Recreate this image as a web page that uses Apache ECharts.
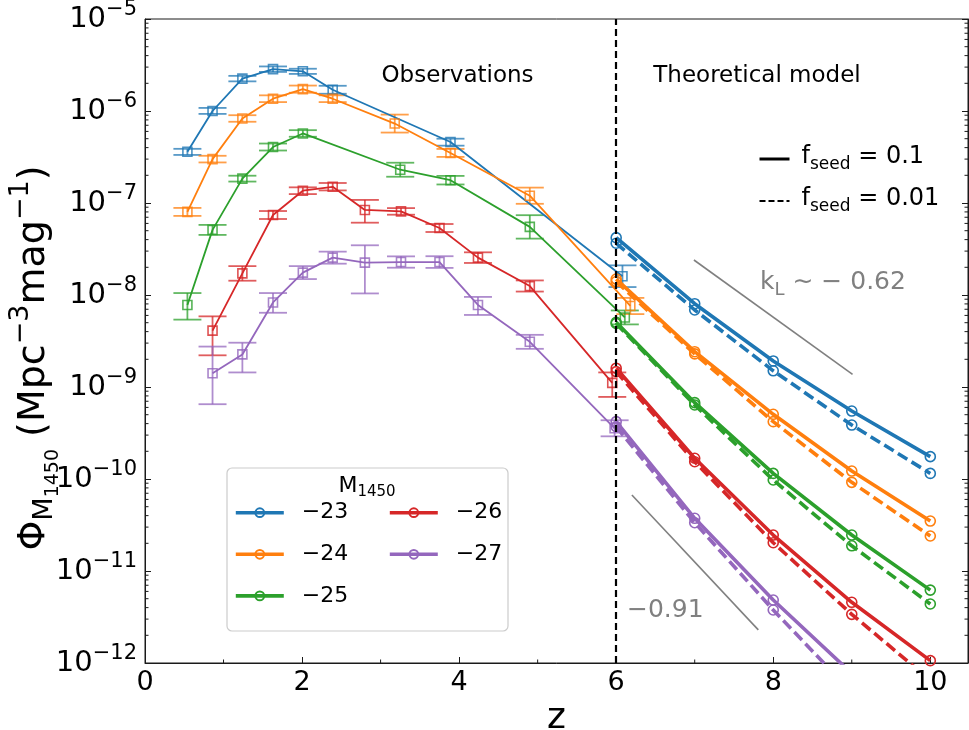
<!DOCTYPE html>
<html>
<head>
<meta charset="utf-8">
<script src="https://cdn.jsdelivr.net/npm/echarts@6/dist/echarts.min.js"></script>
<style>
  html, body { margin: 0; padding: 0; background: #ffffff; }
  #chart { width: 969px; height: 730px; }
</style>
</head>
<body>
<div id="chart"></div>
<script>
// ---- data -------------------------------------------------------------
const magLabels = ['−23', '−24', '−25', '−26', '−27'];

// observed luminosity function (z, Phi, lower and upper error bounds)
const obsZ23   = [0.54, 0.86, 1.24, 1.63, 2.01, 2.39, 3.89, 6.08];
const obsPhi23 = [3.6e-7, 1.0e-6, 2.25e-6, 2.85e-6, 2.7e-6, 1.7e-6, 4.6e-7, 1.6e-8];
const obsLo23  = [3.33e-7, 0.93e-6, 2.1e-6, 2.66e-6, 2.53e-6, 1.54e-6, 4.2e-7, 1.22e-8];
const obsHi23  = [3.88e-7, 1.08e-6, 2.41e-6, 3.05e-6, 2.88e-6, 1.88e-6, 5.0e-7, 2.1e-8];

const obsZ24   = [0.54, 0.86, 1.24, 1.63, 2.01, 2.39, 3.18, 3.89, 4.90, 6.18];
const obsPhi24 = [8.0e-8, 3.0e-7, 8.3e-7, 1.36e-6, 1.73e-6, 1.36e-6, 7.3e-7, 3.5e-7, 1.2e-7, 7.6e-9];
const obsLo24  = [7.24e-8, 2.76e-7, 7.64e-7, 1.25e-6, 1.58e-6, 1.25e-6, 5.83e-7, 3.17e-7, 9.8e-8, 6.2e-9];
const obsHi24  = [8.84e-8, 3.26e-7, 9.0e-7, 1.48e-6, 1.89e-6, 1.48e-6, 9.14e-7, 3.87e-7, 1.47e-7, 9.3e-9];

const obsZ25   = [0.54, 0.86, 1.24, 1.63, 2.01, 3.25, 3.89, 4.90, 6.11];
const obsPhi25 = [7.8e-9, 5.1e-8, 1.84e-7, 4.06e-7, 5.7e-7, 2.3e-7, 1.77e-7, 5.5e-8, 5.7e-9];
const obsLo25  = [5.4e-9, 4.5e-8, 1.71e-7, 3.72e-7, 5.25e-7, 1.93e-7, 1.59e-7, 4.1e-8, 4.79e-9];
const obsHi25  = [1.05e-8, 5.78e-8, 1.98e-7, 4.43e-7, 6.19e-7, 2.74e-7, 1.97e-7, 7.37e-8, 6.79e-9];

const obsZ26   = [0.86, 1.24, 1.63, 2.01, 2.39, 2.80, 3.26, 3.75, 4.24, 4.90, 5.95];
const obsPhi26 = [4.1e-9, 1.72e-8, 7.4e-8, 1.36e-7, 1.5e-7, 8.4e-8, 8.1e-8, 5.35e-8, 2.55e-8, 1.25e-8, 1.11e-9];
const obsLo26  = [2.21e-9, 1.43e-8, 6.7e-8, 1.25e-7, 1.37e-7, 6.11e-8, 7.46e-8, 4.84e-8, 2.23e-8, 1.09e-8, 7.8e-10];
const obsHi26  = [5.86e-9, 2.06e-8, 8.18e-8, 1.48e-7, 1.65e-7, 1.08e-7, 8.8e-8, 5.91e-8, 2.91e-8, 1.44e-8, 1.44e-9];

const obsZ27   = [0.86, 1.24, 1.63, 2.01, 2.39, 2.80, 3.26, 3.75, 4.24, 4.90, 5.98];
const obsPhi27 = [1.41e-9, 2.26e-9, 8.3e-9, 1.75e-8, 2.55e-8, 2.25e-8, 2.28e-8, 2.28e-8, 7.8e-9, 3.1e-9, 3.56e-10];
const obsLo27  = [6.5e-10, 1.44e-9, 6.41e-9, 1.49e-8, 2.19e-8, 1.04e-8, 1.98e-8, 1.97e-8, 6.07e-9, 2.6e-9, 2.91e-10];
const obsHi27  = [2.75e-9, 3.03e-9, 1.05e-8, 2.06e-8, 2.96e-8, 3.47e-8, 2.63e-8, 2.64e-8, 9.53e-9, 3.69e-9, 4.35e-10];

// theoretical model, f_seed = 0.1 (solid) and f_seed = 0.01 (dashed)
const zModel = [6, 7, 8, 9, 10];
const seedHigh23 = [4.2e-8, 8.04e-9, 1.92e-9, 5.48e-10, 1.75e-10];
const seedHigh24 = [1.49e-8, 2.42e-9, 5.05e-10, 1.22e-10, 3.49e-11];
const seedHigh25 = [5.05e-9, 6.76e-10, 1.15e-10, 2.46e-11, 6.2e-12];
const seedHigh26 = [1.6e-9, 1.68e-10, 2.46e-11, 4.57e-12, 1.06e-12];
const seedHigh27 = [4.2e-10, 3.74e-11, 4.84e-12, 7.7e-13, 1.35e-13];

const seedLow23 = [3.65e-8, 6.87e-9, 1.5e-9, 3.86e-10, 1.15e-10];
const seedLow24 = [1.4e-8, 2.29e-9, 4.2e-10, 9.2e-11, 2.4e-11];
const seedLow25 = [4.9e-9, 6.37e-10, 9.75e-11, 1.88e-11, 4.38e-12];
const seedLow26 = [1.47e-9, 1.54e-10, 2.03e-11, 3.38e-12, 6.5e-13];
const seedLow27 = [3.7e-10, 3.35e-11, 3.77e-12, 4.8e-13, 1.0e-13];

// slope guide segments (k_L ~ -0.62 and -0.91)
const guideShallowZ   = [6.99, 9.01];
const guideShallowPhi = [2.4e-8, 1.37e-9];
const guideSteepZ     = [6.2, 7.81];
const guideSteepPhi   = [6.7e-11, 2.29e-12];

// axes
const zMin = 0, zMax = 10.48, zStep = 2;
const phiMin = 1e-12, phiMax = 1e-5;
const zMinorTicks = [1, 3, 5, 7, 9];
const zBoundary = 6;

// ---- styling ----------------------------------------------------------
const FONT = 'DejaVu Sans';
const palette = ['#1f77b4', '#ff7f0e', '#2ca02c', '#d62728', '#9467bd'];
const AXIS_COLOR = '#1a1a1a';

const obsSets = [
  [obsZ23, obsPhi23, obsLo23, obsHi23],
  [obsZ24, obsPhi24, obsLo24, obsHi24],
  [obsZ25, obsPhi25, obsLo25, obsHi25],
  [obsZ26, obsPhi26, obsLo26, obsHi26],
  [obsZ27, obsPhi27, obsLo27, obsHi27]
];
const seedHighSets = [seedHigh23, seedHigh24, seedHigh25, seedHigh26, seedHigh27];
const seedLowSets  = [seedLow23, seedLow24, seedLow25, seedLow26, seedLow27];

const zip = (xs, ys) => xs.map((x, i) => [x, ys[i]]);

// minor ticks of the logarithmic Phi axis (2..9 x 10^n)
const phiMinorTicks = [];
for (let e = -12; e < -5; e++) {
  for (let k = 2; k <= 9; k++) phiMinorTicks.push(k * Math.pow(10, e));
}

const series = [];

obsSets.forEach((set, i) => {
  const [zs, phis, los, his] = set;
  const color = palette[i];
  // error bars with caps
  series.push({
    name: 'err' + magLabels[i],
    type: 'custom',
    silent: true,
    z: 2,
    data: zs.map((z, k) => [z, los[k], his[k]]),
    encode: { x: 0, y: [1, 2] },
    renderItem: function (params, api) {
      const x = api.value(0);
      const pLo = api.coord([x, api.value(1)]);
      const pHi = api.coord([x, api.value(2)]);
      const hw = 14;
      const st = { stroke: color, lineWidth: 1.8, opacity: 0.75 };
      return {
        type: 'group',
        children: [
          { type: 'line', shape: { x1: pLo[0], y1: pLo[1], x2: pHi[0], y2: pHi[1] }, style: st },
          { type: 'line', shape: { x1: pLo[0] - hw, y1: pLo[1], x2: pLo[0] + hw, y2: pLo[1] }, style: st },
          { type: 'line', shape: { x1: pHi[0] - hw, y1: pHi[1], x2: pHi[0] + hw, y2: pHi[1] }, style: st }
        ]
      };
    }
  });
  // observed points joined by a thin line
  series.push({
    name: 'obs' + magLabels[i],
    type: 'line',
    z: 3,
    data: zip(zs, phis),
    symbol: 'rect',
    symbolSize: 9,
    showAllSymbol: true,
    lineStyle: { color: color, width: 1.8 },
    itemStyle: { color: 'rgba(0,0,0,0)', borderColor: color, borderWidth: 1.6, opacity: 0.8 },
    emphasis: { disabled: true },
    markLine: i === 0 ? {
      silent: true,
      symbol: 'none',
      label: { show: false },
      lineStyle: { color: '#000', width: 2.2, type: [7, 4] },
      data: [{ xAxis: zBoundary }]
    } : undefined
  });
});

seedHighSets.forEach((vals, i) => {
  const color = palette[i];
  series.push({
    name: magLabels[i],
    type: 'line',
    z: 4,
    data: zip(zModel, vals),
    symbol: 'circle',
    symbolSize: 10,
    lineStyle: { color: color, width: 3.6 },
    itemStyle: { color: 'rgba(0,0,0,0)', borderColor: color, borderWidth: 1.6 },
    emphasis: { disabled: true }
  });
});

seedLowSets.forEach((vals, i) => {
  const color = palette[i];
  series.push({
    name: 'low' + magLabels[i],
    type: 'line',
    z: 4,
    data: zip(zModel, vals),
    symbol: 'circle',
    symbolSize: 10,
    lineStyle: { color: color, width: 3.6, type: [11, 5] },
    itemStyle: { color: 'rgba(0,0,0,0)', borderColor: color, borderWidth: 1.6 },
    emphasis: { disabled: true }
  });
});

// slope guides
[[guideShallowZ, guideShallowPhi], [guideSteepZ, guideSteepPhi]].forEach((g, i) => {
  series.push({
    name: 'guide' + i,
    type: 'line',
    silent: true,
    z: 2,
    data: zip(g[0], g[1]),
    symbol: 'none',
    lineStyle: { color: '#808080', width: 1.6 }
  });
});

// line samples for the f_seed key
series.push({
  name: 'seedHighKey', type: 'line', data: [], symbol: 'none',
  lineStyle: { color: '#000', width: 3 }, itemStyle: { color: '#000' }
});
series.push({
  name: 'seedLowKey', type: 'line', data: [], symbol: 'none',
  lineStyle: { color: '#000', width: 2, type: [6, 3] }, itemStyle: { color: '#000' }
});

// inward minor ticks on both vertical spines
series.push({
  name: 'phiMinorTicks',
  type: 'custom',
  silent: true,
  z: 5,
  data: phiMinorTicks.map(v => [zMin, v]),
  encode: { x: 0, y: 1 },
  renderItem: function (params, api) {
    const v = api.value(1);
    const pl = api.coord([zMin, v]);
    const pr = api.coord([zMax, v]);
    const st = { stroke: AXIS_COLOR, lineWidth: 1 };
    return {
      type: 'group',
      children: [
        { type: 'line', shape: { x1: pl[0], y1: pl[1], x2: pl[0] + 3.5, y2: pl[1] }, style: st },
        { type: 'line', shape: { x1: pr[0] - 3.5, y1: pr[1], x2: pr[0], y2: pr[1] }, style: st }
      ]
    };
  }
});
// inward minor ticks on the z axis
series.push({
  name: 'zMinorTicks',
  type: 'custom',
  silent: true,
  z: 5,
  data: zMinorTicks.map(z => [z, phiMin]),
  encode: { x: 0, y: 1 },
  renderItem: function (params, api) {
    const p = api.coord([api.value(0), phiMin]);
    return { type: 'line', shape: { x1: p[0], y1: p[1], x2: p[0], y2: p[1] - 3.5 },
             style: { stroke: AXIS_COLOR, lineWidth: 1 } };
  }
});

const tickRich = {
  b: { fontFamily: FONT, fontSize: 29, color: '#000', lineHeight: 30, verticalAlign: 'bottom' },
  e: { fontFamily: FONT, fontSize: 21, color: '#000', lineHeight: 21, verticalAlign: 'bottom', padding: [0, 0, 14, 0] }
};

const logTickLabel = function (v) {
  const e = Math.round(Math.log10(v));
  return '{b|10}{e|' + (e < 0 ? '−' : '') + Math.abs(e) + '}';
};

const magLegend = (names, left) => ({
  data: names,
  orient: 'vertical',
  left: left, top: 500.7,
  padding: 0,
  itemWidth: 48, itemHeight: 11, itemGap: 17.6,
  selectedMode: false,
  lineStyle: { width: 3.6 },
  textStyle: { fontFamily: FONT, fontSize: 22, color: '#000', lineHeight: 24, padding: [0, 0, 0, 13] }
});

const option = {
  animation: false,
  backgroundColor: '#ffffff',
  grid: {
    left: 145, right: 1, top: 19, bottom: 67,
    show: true, borderColor: AXIS_COLOR, borderWidth: 1,
    containLabel: false, outerBoundsMode: 'none'
  },
  xAxis: {
    type: 'value',
    min: zMin, max: zMax, interval: zStep,
    name: 'z',
    nameLocation: 'middle',
    nameGap: 30,
    nameTextStyle: { fontFamily: FONT, fontSize: 36, color: '#000' },
    axisLine: { show: true, lineStyle: { color: AXIS_COLOR, width: 1 } },
    axisTick: { show: true, inside: true, length: 6, lineStyle: { color: AXIS_COLOR } },
    axisLabel: {
      fontFamily: FONT, fontSize: 27, color: '#000', margin: 6,
      showMaxLabel: false,
      formatter: v => (Math.abs(v - Math.round(v)) < 1e-6 ? String(Math.round(v)) : '')
    },
    splitLine: { show: false }
  },
  yAxis: [{
    type: 'log',
    logBase: 10,
    min: phiMin, max: phiMax,
    axisLine: { show: true, lineStyle: { color: AXIS_COLOR, width: 1 } },
    axisTick: { show: true, inside: true, length: 6, lineStyle: { color: AXIS_COLOR } },
    axisLabel: { margin: 8, formatter: logTickLabel, rich: tickRich },
    splitLine: { show: false }
  }, {
    type: 'log',
    logBase: 10,
    min: phiMin, max: phiMax,
    position: 'right',
    axisLine: { show: true, lineStyle: { color: AXIS_COLOR, width: 1 } },
    axisTick: { show: true, inside: true, length: 6, lineStyle: { color: AXIS_COLOR } },
    axisLabel: { show: false },
    splitLine: { show: false }
  }],
  legend: [
    magLegend(magLabels.slice(0, 3), 234),
    magLegend(magLabels.slice(3), 388),
    {
      data: [
        { name: 'seedHighKey', lineStyle: { width: 3 } },
        { name: 'seedLowKey', lineStyle: { width: 2 } }
      ],
      orient: 'vertical',
      left: 758, top: 145,
      padding: 0,
      itemWidth: 30, itemHeight: 8, itemGap: 14,
      selectedMode: false,
      itemStyle: { color: 'rgba(0,0,0,0)', borderWidth: 0, opacity: 0 },
      formatter: function (name) {
        return name === 'seedHighKey' ? '{b|f}{s|seed}{b| = 0.1}' : '{b|f}{s|seed}{b| = 0.01}';
      },
      textStyle: {
        padding: [0, 0, 0, 7],
        rich: {
          b: { fontFamily: FONT, fontSize: 24, color: '#000', lineHeight: 28, verticalAlign: 'bottom', padding: [0, 0, 4, 0] },
          s: { fontFamily: FONT, fontSize: 17, color: '#000', lineHeight: 20, verticalAlign: 'bottom', padding: [0, 0, 0, 0] }
        }
      }
    }
  ],
  graphic: [
    {
      type: 'text', z: 5, silent: true,
      x: 43, y: 358, rotation: Math.PI / 2,
      style: {
        text: '{b|Φ}{s|M}{ss|1450}{b| (Mpc}{e|−3}{b|mag}{e|−1}{b|)}',
        align: 'center', verticalAlign: 'middle',
        rich: {
          b: { fontFamily: FONT, fontSize: 38, fill: '#000', lineHeight: 40, verticalAlign: 'bottom', padding: [0, 0, 10, 0] },
          s: { fontFamily: FONT, fontSize: 27, fill: '#000', lineHeight: 27, verticalAlign: 'bottom', padding: [0, 0, 5, 0] },
          ss: { fontFamily: FONT, fontSize: 19, fill: '#000', lineHeight: 19, verticalAlign: 'bottom' },
          e: { fontFamily: FONT, fontSize: 27, fill: '#000', lineHeight: 27, verticalAlign: 'bottom', padding: [0, 0, 29, 0] }
        }
      }
    },
    {
      type: 'rect', z: 3, silent: true,
      shape: { x: 227, y: 468, width: 281, height: 163, r: 5 },
      style: { fill: 'rgba(255,255,255,0.8)', stroke: '#cccccc', lineWidth: 1.2 }
    },
    {
      type: 'text', z: 5, silent: true,
      x: 367, y: 488,
      style: {
        text: '{b|M}{s|1450}',
        align: 'center', verticalAlign: 'middle',
        rich: {
          b: { fontFamily: FONT, fontSize: 22, fill: '#000', lineHeight: 24, verticalAlign: 'bottom', padding: [0, 0, 3, 0] },
          s: { fontFamily: FONT, fontSize: 15, fill: '#000', lineHeight: 16, verticalAlign: 'bottom' }
        }
      }
    },
    {
      type: 'text', z: 5, silent: true,
      x: 457.5, y: 76,
      style: { text: 'Observations', fontFamily: FONT, fontSize: 23, fill: '#000', align: 'center', verticalAlign: 'middle' }
    },
    {
      type: 'text', z: 5, silent: true,
      x: 757, y: 76,
      style: { text: 'Theoretical model', fontFamily: FONT, fontSize: 23, fill: '#000', align: 'center', verticalAlign: 'middle' }
    },
    {
      type: 'text', z: 5, silent: true,
      x: 760, y: 285,
      style: {
        text: '{g|k}{s|L}{g| ∼ − 0.62}',
        align: 'left', verticalAlign: 'middle',
        rich: {
          g: { fontFamily: FONT, fontSize: 25, fill: '#808080', lineHeight: 28, verticalAlign: 'bottom', padding: [0, 0, 4, 0] },
          s: { fontFamily: FONT, fontSize: 18, fill: '#808080', lineHeight: 20, verticalAlign: 'bottom' }
        }
      }
    },
    {
      type: 'text', z: 5, silent: true,
      x: 627, y: 610,
      style: { text: '−0.91', fontFamily: FONT, fontSize: 25, fill: '#808080', align: 'left', verticalAlign: 'middle' }
    }
  ],
  series: series
};

const chart = echarts.init(document.getElementById('chart'), null, { renderer: 'canvas' });
chart.setOption(option);
</script>
</body>
</html>
